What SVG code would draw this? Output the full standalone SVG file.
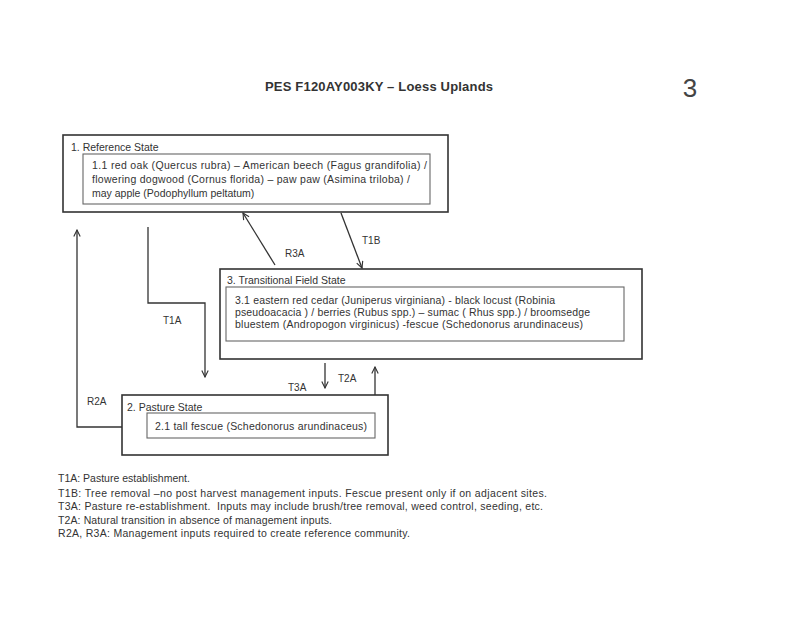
<svg xmlns="http://www.w3.org/2000/svg" width="800" height="617" viewBox="0 0 800 617">
<defs>
<style>
text{font-family:"Liberation Sans",Arial,sans-serif;fill:#333;}
.t{font-size:10.5px;}
.lbl{font-size:10px;}
.outer{fill:none;stroke:#333;stroke-width:1.6;}
.inner{fill:none;stroke:#666;stroke-width:1.1;}
.conn{fill:none;stroke:#333;stroke-width:1.3;marker-end:url(#ah);}
</style>
<marker id="ah" viewBox="0 0 10 10" refX="9" refY="5" markerWidth="8" markerHeight="8" markerUnits="userSpaceOnUse" orient="auto">
<path d="M1,1 L9,5 L1,9" fill="none" stroke="#333" stroke-width="1.4"/>
</marker>
</defs>
<rect width="800" height="617" fill="#fff"/>
<text x="265" y="91" font-size="13" font-weight="bold" textLength="228">PES F120AY003KY – Loess Uplands</text>
<text x="690" y="97" font-size="26" text-anchor="middle" style="fill:#444">3</text>

<g id="reference-state">
<rect class="outer" x="63" y="135" width="385" height="77"/>
<text class="t" x="71" y="151">1. Reference State</text>
<rect class="inner" x="83" y="154" width="347" height="50"/>
<text class="t" x="92" y="169" textLength="335">1.1 red oak (Quercus rubra) – American beech (Fagus grandifolia) /</text>
<text class="t" x="92" y="183" textLength="318">flowering dogwood (Cornus florida) – paw paw (Asimina triloba) /</text>
<text class="t" x="92" y="197">may apple (Podophyllum peltatum)</text>
</g>

<g id="transitional-field-state">
<rect class="outer" x="220" y="269" width="422" height="90"/>
<text class="t" x="227" y="284">3. Transitional Field State</text>
<rect class="inner" x="226" y="287" width="398" height="54"/>
<text class="t" x="235" y="304" textLength="320">3.1 eastern red cedar (Juniperus virginiana) - black locust (Robinia</text>
<text class="t" x="235" y="316" textLength="355">pseudoacacia ) / berries (Rubus spp.) – sumac ( Rhus spp.) / broomsedge</text>
<text class="t" x="235" y="328" textLength="348">bluestem (Andropogon virginicus) -fescue (Schedonorus arundinaceus)</text>
</g>

<g id="pasture-state">
<rect class="outer" x="122" y="395" width="266" height="60"/>
<text class="t" x="127" y="411">2. Pasture State</text>
<rect class="inner" x="147" y="413" width="228" height="25"/>
<text class="t" x="155" y="430" textLength="212">2.1 tall fescue (Schedonorus arundinaceus)</text>
</g>

<g id="connectors">
<polyline class="conn" points="122,427 77,427 77,230"/>
<polyline class="conn" points="148,227 148,303 205,303 205,377"/>
<line class="conn" x1="275" y1="265" x2="243" y2="213"/>
<line class="conn" x1="341" y1="213" x2="362" y2="268"/>
<line class="conn" x1="325" y1="363" x2="325" y2="388"/>
<line class="conn" x1="375" y1="395" x2="375" y2="367"/>
<text class="lbl" x="87" y="405">R2A</text>
<text class="lbl" x="163" y="324">T1A</text>
<text class="lbl" x="285" y="257">R3A</text>
<text class="lbl" x="362" y="244">T1B</text>
<text class="lbl" x="288" y="391">T3A</text>
<text class="lbl" x="338" y="382">T2A</text>
</g>

<g id="legend">
<text class="t" x="58" y="482">T1A: Pasture establishment.</text>
<text class="t" x="58" y="497" textLength="489">T1B: Tree removal –no post harvest management inputs. Fescue present only if on adjacent sites.</text>
<text class="t" x="58" y="510" textLength="485" xml:space="preserve">T3A: Pasture re-establishment.  Inputs may include brush/tree removal, weed control, seeding, etc.</text>
<text class="t" x="58" y="524" textLength="274">T2A: Natural transition in absence of management inputs.</text>
<text class="t" x="58" y="537" textLength="352">R2A, R3A: Management inputs required to create reference community.</text>
</g>
</svg>
